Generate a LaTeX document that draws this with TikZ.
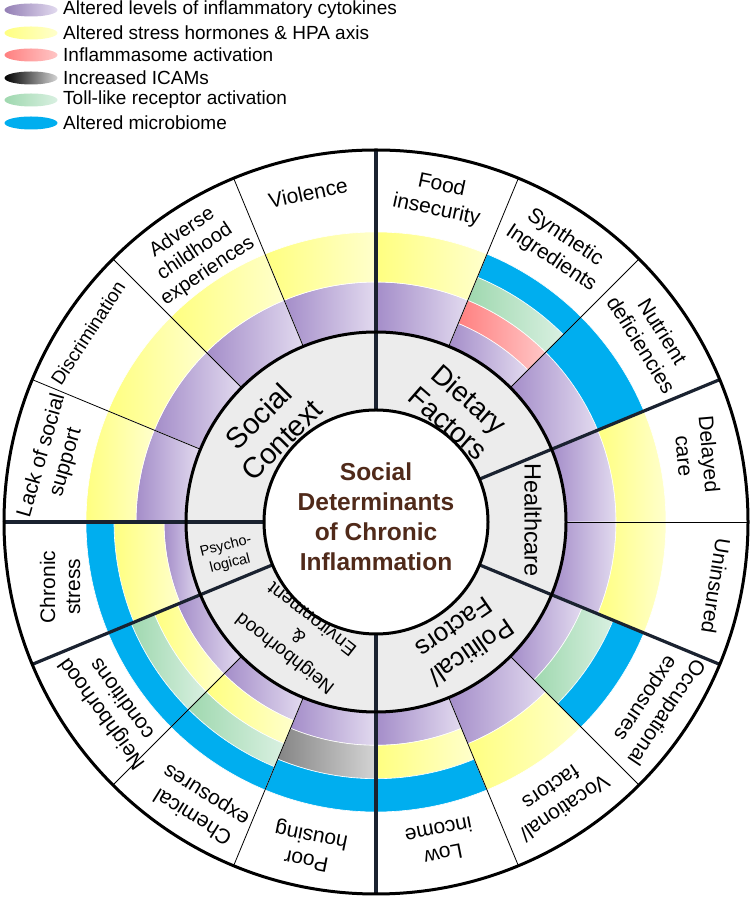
\documentclass[tikz,border=0pt]{standalone}
\usepackage{fontspec}
\setmainfont{Liberation Sans}
\usetikzlibrary{shapes.geometric}

\definecolor{purpD}{HTML}{A48DC9}
\definecolor{purpL}{HTML}{E2DAEF}
\definecolor{yelD}{HTML}{FFFF80}
\definecolor{yelL}{HTML}{FFFFCC}
\definecolor{redD}{HTML}{FF8080}
\definecolor{redL}{HTML}{FFC6C6}
\definecolor{grnD}{HTML}{9FD8AF}
\definecolor{grnL}{HTML}{D9F0E1}
\definecolor{gryD}{HTML}{858585}
\definecolor{gryL}{HTML}{D4D4D4}
\definecolor{bluC}{HTML}{00AEEF}
\definecolor{ringGray}{HTML}{ECECEC}
\definecolor{brownT}{RGB}{80,42,26}
\definecolor{navyLine}{HTML}{1A2230}

\newcommand{\sdBand}[5]{%
  \path[#5] (#1:#3pt) arc[start angle=#1, end angle=#2, radius=#3pt]
    -- (#2:#4pt) arc[start angle=#2, end angle=#1, radius=#4pt] -- cycle;}

\tikzset{
  bandP/.style={shade, left color=purpD, right color=purpL, draw=white, line width=0.6pt},
  bandY/.style={shade, left color=yelD, right color=yelL, draw=white, line width=0.6pt},
  bandR/.style={shade, left color=redD, right color=redL, draw=white, line width=0.6pt},
  bandG/.style={shade, left color=grnD, right color=grnL, draw=white, line width=0.6pt},
  bandK/.style={shade, left color=gryD, right color=gryL, draw=white, line width=0.6pt},
  bandB/.style={fill=bluC, draw=white, line width=0.6pt},
  thickdiv/.style={line width=3.2pt, draw=navyLine},
  thindiv/.style={line width=0.8pt, draw=black},
  ringline/.style={line width=3pt, draw=black},
  outerlbl/.style={font=\fontsize{21}{25}\selectfont, align=center, inner sep=1pt},
  catlbl/.style={align=center, inner sep=1pt},
  legtxt/.style={anchor=west, font=\fontsize{19}{22}\selectfont, inner sep=0pt},
  legell/.style={ellipse, minimum width=53pt, minimum height=13pt, inner sep=0pt, draw=none},
}

\begin{document}
\begin{tikzpicture}[x=1pt,y=1pt]
\useasboundingbox (0,0) rectangle (753,899);
\fill[white] (0,0) rectangle (753,899);

% ---------- legend ----------
\node[legell, shade, left color=purpD!90!black, right color=purpL] (e1) at (31,889) {};
\node[legell, shade, left color=yelD, right color=yelL] (e2) at (31,866) {};
\node[legell, shade, left color=redD, right color=redL] (e3) at (31,844) {};
\node[legell, shade, left color=black, right color=gryL] (e4) at (31,821) {};
\node[legell, shade, left color=grnD, right color=grnL] (e5) at (31,799) {};
\node[legell, fill=bluC] (e6) at (31,776) {};
\node[legtxt] (t1) at (63,889) {Altered levels of inflammatory cytokines};
\node[legtxt] (t2) at (63,866) {Altered stress hormones \& HPA axis};
\node[legtxt] (t3) at (63,844) {Inflammasome activation};
\node[legtxt] (t4) at (63,821) {Increased ICAMs};
\node[legtxt] (t5) at (63,799) {Toll-like receptor activation};
\node[legtxt] (t6) at (63,776) {Altered microbiome};

% ---------- wheel ----------
\begin{scope}[shift={(376,377)}]
  \coordinate (C) at (0,0);
  % gray ring
  \fill[ringGray] (C) circle[radius=190pt];
  \fill[white] (C) circle[radius=112pt];

  % Violence 90-112.5
  \sdBand{90}{112.5}{190}{240}{bandP}
  \sdBand{90}{112.5}{240}{290}{bandY}
  % Adverse 112.5-135
  \sdBand{112.5}{135}{190}{240}{bandP}
  \sdBand{112.5}{135}{240}{290}{bandY}
  % Discrimination 135-157.5
  \sdBand{135}{157.5}{190}{240}{bandP}
  \sdBand{135}{157.5}{240}{290}{bandY}
  % Lack of social support 157.5-180
  \sdBand{157.5}{180}{190}{240}{bandP}
  \sdBand{157.5}{180}{240}{290}{bandY}
  % Chronic stress 180-202.5
  \sdBand{180}{202.5}{190}{212}{bandP}
  \sdBand{180}{202.5}{212}{262}{bandY}
  \sdBand{180}{202.5}{262}{290}{bandB}
  % Neighborhood conditions 202.5-225
  \sdBand{202.5}{225}{190}{215}{bandP}
  \sdBand{202.5}{225}{215}{240}{bandY}
  \sdBand{202.5}{225}{240}{265}{bandG}
  \sdBand{202.5}{225}{265}{290}{bandB}
  % Chemical exposures 225-247.5
  \sdBand{225}{247.5}{190}{215}{bandP}
  \sdBand{225}{247.5}{215}{240}{bandY}
  \sdBand{225}{247.5}{240}{265}{bandG}
  \sdBand{225}{247.5}{265}{290}{bandB}
  % Poor housing 247.5-270
  \sdBand{247.5}{270}{190}{223.3}{bandP}
  \sdBand{247.5}{270}{223.3}{256.7}{bandK}
  \sdBand{247.5}{270}{256.7}{290}{bandB}
  % Low income 270-292.5
  \sdBand{270}{292.5}{190}{223.3}{bandP}
  \sdBand{270}{292.5}{223.3}{256.7}{bandY}
  \sdBand{270}{292.5}{256.7}{290}{bandB}
  % Vocational factors 292.5-315
  \sdBand{292.5}{315}{190}{240}{bandP}
  \sdBand{292.5}{315}{240}{290}{bandY}
  % Occupational exposures 315-337.5
  \sdBand{315}{337.5}{190}{223.3}{bandP}
  \sdBand{315}{337.5}{223.3}{256.7}{bandG}
  \sdBand{315}{337.5}{256.7}{290}{bandB}
  % Uninsured 337.5-360
  \sdBand{337.5}{360}{190}{240}{bandP}
  \sdBand{337.5}{360}{240}{290}{bandY}
  % Delayed care 0-22.5
  \sdBand{0}{22.5}{190}{240}{bandP}
  \sdBand{0}{22.5}{240}{290}{bandY}
  % Nutrient deficiencies 22.5-45
  \sdBand{22.5}{45}{190}{240}{bandP}
  \sdBand{22.5}{45}{240}{290}{bandB}
  % Synthetic ingredients 45-67.5
  \sdBand{45}{67.5}{190}{215}{bandP}
  \sdBand{45}{67.5}{215}{240}{bandR}
  \sdBand{45}{67.5}{240}{265}{bandG}
  \sdBand{45}{67.5}{265}{290}{bandB}
  % Food insecurity 67.5-90
  \sdBand{67.5}{90}{190}{240}{bandP}
  \sdBand{67.5}{90}{240}{290}{bandY}

  % thin dividers
  \foreach \a in {112.5,135,157.5,67.5,45,0,315,292.5,247.5,225}
    \draw[thindiv] (\a:190pt) -- (\a:372pt);
  % thick dividers
  \foreach \a in {90,22.5,-22.5,270,202.5,180}
    \draw[thickdiv] (\a:112pt) -- (\a:372pt);
  % rings
  \draw[ringline] (C) circle[radius=112pt];
  \draw[ringline] (C) circle[radius=190pt];
  \draw[ringline] (C) circle[radius=372pt];
\end{scope}

% ---------- center ----------
\node[font=\bfseries\fontsize{24.5}{30}\selectfont, text=brownT, align=center] (centre) at (376,382)
  {Social\\Determinants\\of Chronic\\Inflammation};

% ---------- category labels ----------
\node[catlbl, font=\fontsize{29}{33}\selectfont, rotate=45] (social) at (270,471) {Social\\Context};
\node[catlbl, font=\fontsize{28}{32}\selectfont, rotate=-41] (dietary) at (459,488) {Dietary\\Factors};
\node[catlbl, font=\fontsize{23.5}{27}\selectfont, rotate=-90] (health) at (533,379) {Healthcare};
\node[catlbl, font=\fontsize{26}{30}\selectfont, rotate=214.5] (political) at (463,259) {Political/\\Factors};
\node[catlbl, font=\fontsize{19}{22}\selectfont, rotate=142] (neigh) at (298,262) {Neighborhood\\\&\\Environment};
\node[catlbl, font=\fontsize{14.5}{18}\selectfont, rotate=14] (psych) at (228,344) {Psycho-\\logical};

% ---------- outer labels ----------
\node[outerlbl, rotate=12] (violence) at (308,706) {Violence};
\node[outerlbl, rotate=33.75, font=\fontsize{20}{23}\selectfont] (adverse) at (195,647) {Adverse\\childhood\\experiences};
\node[outerlbl, rotate=57, font=\fontsize{19}{23}\selectfont] (discrim) at (88,566) {Discrimination};
\node[outerlbl, rotate=74] (lack) at (54,440) {Lack of social\\support};
\node[outerlbl, rotate=90] (chronic) at (60,312) {Chronic\\stress};
\node[outerlbl, rotate=126] (nbcond) at (111,192) {Neighborhood\\conditions};
\node[outerlbl, rotate=148] (chem) at (200,94) {Chemical\\exposures};
\node[outerlbl, rotate=168.75] (housing) at (309,52) {Poor\\housing};
\node[outerlbl, rotate=191.25] (income) at (441,57) {Low\\income};
\node[outerlbl, rotate=213.75] (vocat) at (558,101) {Vocational/\\factors};
\node[outerlbl, rotate=236.25] (occup) at (655,194) {Occupational\\exposures};
\node[outerlbl, rotate=261] (uninsured) at (716,313) {Uninsured};
\node[outerlbl, rotate=-85] (delayed) at (697,444) {Delayed\\care};
\node[outerlbl, rotate=-58] (nutrient) at (652,561) {Nutrient\\deficiencies};
\node[outerlbl, rotate=-33.75] (synth) at (558,651) {Synthetic\\Ingredients};
\node[outerlbl, rotate=-12] (food) at (439,701) {Food\\insecurity};
\end{tikzpicture}
\end{document}
